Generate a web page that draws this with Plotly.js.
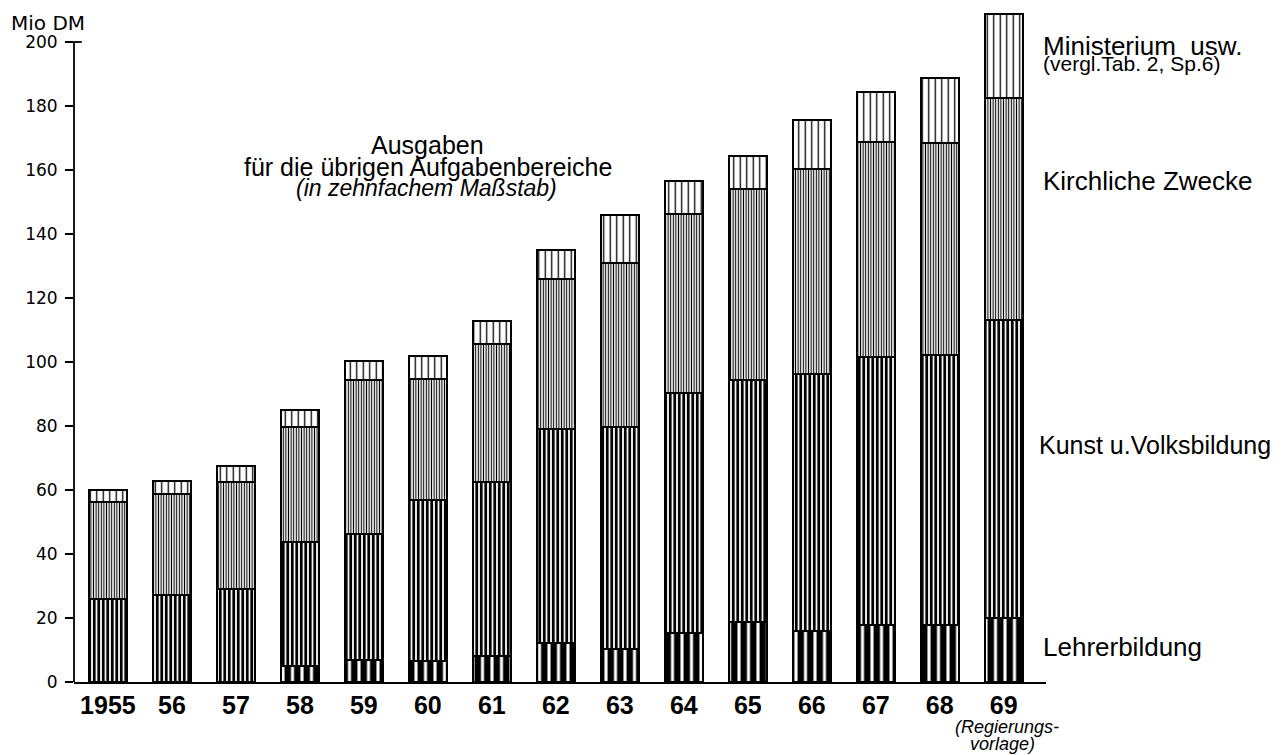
<!DOCTYPE html>
<html>
<head>
<meta charset="utf-8">
<script src="https://cdn.plot.ly/plotly-3.0.1.min.js"></script>
<style>
  html, body { margin: 0; padding: 0; background: #ffffff; }
  #chart { width: 1285px; height: 755px; }
</style>
</head>
<body>
<div id="chart"></div>
<script>
// ---- Data (Mio DM) ----
const years = ["1955", "56", "57", "58", "59", "60", "61", "62", "63", "64", "65", "66", "67", "68", "69"];
const lehrerbildung   = [0, 0, 0, 5.0, 6.9, 6.6, 8.1, 12.1, 10.3, 15.2, 18.9, 16.0, 17.8, 17.8, 19.9];
const kunstVolksbild  = [25.9, 27.2, 29.1, 38.6, 39.5, 50.2, 54.5, 67.0, 69.4, 75.0, 75.5, 80.1, 83.8, 84.5, 93.3];
const kirchlicheZw    = [30.3, 31.6, 33.3, 36.1, 47.9, 38.0, 43.0, 46.8, 51.1, 56.1, 59.7, 64.2, 67.3, 66.2, 69.3];
const ministerium     = [3.9, 4.1, 5.0, 5.2, 6.0, 7.0, 7.1, 9.1, 15.2, 10.4, 10.2, 15.2, 15.5, 20.2, 26.4];
const yTicks = [0, 20, 40, 60, 80, 100, 120, 140, 160, 180, 200];

const idx = years.map((_, i) => i);
const lineStyle = { color: "#000", width: 2 };
function bar(name, vals, pat) {
  return {
    type: "bar", name: name, x: idx, y: vals, width: 0.6,
    marker: { color: "#fff", line: lineStyle,
      pattern: Object.assign({ shape: "|", fgcolor: "#000", bgcolor: "#fff", fillmode: "replace" }, pat) },
    hoverinfo: "skip", cliponaxis: false
  };
}
const traces = [
  bar("Lehrerbildung", lehrerbildung, { size: 9.5, solidity: 0.68 }),
  bar("Kunst u. Volksbildung", kunstVolksbild, { size: 4.5, solidity: 0.62 }),
  bar("Kirchliche Zwecke", kirchlicheZw, { size: 2.6, solidity: 0.42 }),
  bar("Ministerium usw.", ministerium, { size: 6.5, solidity: 0.2 })
];

const sans = "Liberation Sans, Arial, sans-serif";
const lx = 14.58;
const annotations = [
  { text: "Mio DM", xref: "paper", yref: "y", x: -0.067, y: 205.8, xanchor: "left", yanchor: "middle", showarrow: false,
    font: { family: "DejaVu Sans", size: 20, color: "#000" } },
  { text: "Ausgaben", xref: "x", yref: "y", x: 5.0, y: 167.8, yanchor: "middle", showarrow: false,
    font: { family: sans, size: 25, color: "#000" } },
  { text: "für die übrigen Aufgabenbereiche", xref: "x", yref: "y", x: 5.0, y: 161.0, yanchor: "middle", showarrow: false,
    font: { family: sans, size: 25, color: "#000" } },
  { text: "<i>(in zehnfachem Maßstab)</i>", xref: "x", yref: "y", x: 4.98, y: 154.4, yanchor: "middle", showarrow: false,
    font: { family: sans, size: 23, color: "#000" } },
  { text: "Ministerium  usw.", xref: "x", yref: "y", x: lx, y: 198.8, xanchor: "left", yanchor: "middle", showarrow: false,
    font: { family: sans, size: 26, color: "#000" } },
  { text: "(vergl.Tab. 2, Sp.6)", xref: "x", yref: "y", x: lx, y: 193.4, xanchor: "left", yanchor: "middle", showarrow: false,
    font: { family: sans, size: 21, color: "#000" } },
  { text: "Kirchliche Zwecke", xref: "x", yref: "y", x: lx, y: 156.5, xanchor: "left", yanchor: "middle", showarrow: false,
    font: { family: sans, size: 26, color: "#000" } },
  { text: "Kunst u.Volksbildung", xref: "x", yref: "y", x: lx - 0.06, y: 74, xanchor: "left", yanchor: "middle", showarrow: false,
    font: { family: sans, size: 25, color: "#000" } },
  { text: "Lehrerbildung", xref: "x", yref: "y", x: lx, y: 10.8, xanchor: "left", yanchor: "middle", showarrow: false,
    font: { family: sans, size: 26, color: "#000" } },
  { text: "<i>(Regierungs-</i>", xref: "x", yref: "paper", x: 14.05, y: -0.0674, yanchor: "middle", showarrow: false,
    font: { family: sans, size: 18, color: "#000" } },
  { text: "<i>vorlage)</i>", xref: "x", yref: "paper", x: 13.98, y: -0.0928, yanchor: "middle", showarrow: false,
    font: { family: sans, size: 18, color: "#000" } }
];

const layout = {
  width: 1285, height: 755,
  margin: { l: 74, r: 239, t: 10, b: 73.3, pad: 0 },
  paper_bgcolor: "#fff", plot_bgcolor: "#fff",
  barmode: "stack", showlegend: false, hovermode: false,
  xaxis: {
    type: "linear", range: [-0.53, 14.66],
    tickmode: "array", tickvals: idx, ticktext: years,
    ticks: "", showgrid: false, zeroline: false,
    showline: true, linecolor: "#000", linewidth: 2,
    tickfont: { family: sans, size: 25, color: "#000", weight: "bold" },
    ticklabelstandoff: 0
  },
  yaxis: {
    range: [0, 210], tickmode: "array", tickvals: yTicks,
    ticks: "outside", ticklen: 8, tickwidth: 1.5, tickcolor: "#000",
    showgrid: false, zeroline: false, showline: false,
    tickfont: { family: "DejaVu Sans", size: 17, color: "#000" },
    ticklabelstandoff: 4
  },
  shapes: [
    { type: "line", xref: "paper", yref: "y", x0: 0, x1: 0, y0: 0, y1: 200, line: { color: "#000", width: 1.8 } },
    { type: "line", xref: "paper", yref: "y", x0: -0.004, x1: 0.008, y0: 200, y1: 200, line: { color: "#000", width: 1.8 } },
    { type: "line", xref: "paper", yref: "y", x0: -0.009, x1: 0, y0: 0, y1: 0, line: { color: "#000", width: 2 } }
  ],
  annotations: annotations
};

Plotly.newPlot("chart", traces, layout, { displayModeBar: false, staticPlot: true });
</script>
</body>
</html>
